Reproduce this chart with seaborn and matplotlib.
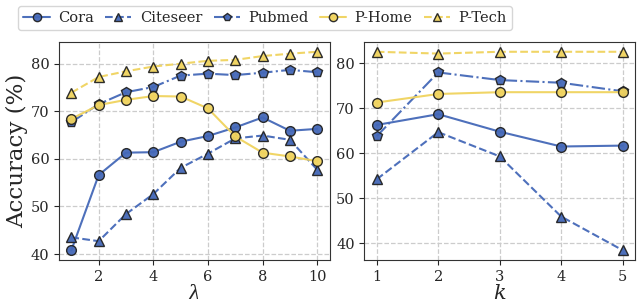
import numpy as np
import pandas as pd
import matplotlib
matplotlib.use("Agg")
import matplotlib.pyplot as plt
import seaborn as sns

# --- données ---
lam = [1, 2, 3, 4, 5, 6, 7, 8, 9, 10]
cora_lam = [40.8, 56.6, 61.3, 61.4, 63.6, 64.8, 66.6, 68.7, 65.9, 66.3]
citeseer_lam = [43.5, 42.7, 48.4, 52.6, 58.1, 61.1, 64.3, 64.9, 64.0, 57.7]
pubmed_lam = [67.7, 71.5, 74.0, 75.1, 77.5, 77.9, 77.6, 78.1, 78.7, 78.2]
phome_lam = [68.4, 71.3, 72.4, 73.2, 73.1, 70.6, 64.7, 61.3, 60.5, 59.5]
ptech_lam = [73.9, 77.2, 78.4, 79.4, 80.0, 80.6, 80.8, 81.6, 82.1, 82.5]

k = [1, 2, 3, 4, 5]
cora_k = [66.3, 68.7, 64.8, 61.5, 61.7]
citeseer_k = [54.2, 64.7, 59.3, 45.9, 38.4]
pubmed_k = [63.8, 78.0, 76.3, 75.7, 73.8]
phome_k = [71.3, 73.2, 73.6, 73.6, 73.6]
ptech_k = [82.6, 82.2, 82.6, 82.6, 82.6]

names = ["Cora", "Citeseer", "Pubmed", "P-Home", "P-Tech"]
blue = "#4468b8"
yellow = "#f0d35e"
styles = {
    "Cora": dict(color=blue, marker="o", ls="-"),
    "Citeseer": dict(color=blue, marker="^", ls="--"),
    "Pubmed": dict(color=blue, marker="p", ls="-."),
    "P-Home": dict(color=yellow, marker="o", ls="-"),
    "P-Tech": dict(color=yellow, marker="^", ls="--"),
}

sns.set_style("ticks")
plt.rcParams["font.family"] = ["DejaVu Serif"]
plt.rcParams["mathtext.fontset"] = "dejavuserif"

fig, axes = plt.subplots(1, 2, figsize=(6.42, 2.99), dpi=100)

panels = [
    (axes[0], lam, [cora_lam, citeseer_lam, pubmed_lam, phome_lam, ptech_lam], r"$\lambda$"),
    (axes[1], k, [cora_k, citeseer_k, pubmed_k, phome_k, ptech_k], r"$k$"),
]

for ax, x, series, xlabel in panels:
    for name, vals in zip(names, series):
        st = styles[name]
        df = pd.DataFrame({"x": x, "y": vals})
        sns.lineplot(data=df, x="x", y="y", ax=ax, color=st["color"], linestyle=st["ls"],
                     marker=st["marker"], markersize=7, markeredgecolor="#222222",
                     markeredgewidth=1.0, linewidth=1.5, alpha=0.95, label=name, legend=False)
    ax.grid(True, linestyle="--", color="#cccccc", linewidth=0.9)
    ax.set_xlabel(xlabel, fontsize=15, labelpad=0)
    ax.set_ylabel("")
    ax.tick_params(labelsize=10.5)
    for sp in ax.spines.values():
        sp.set_color("#333333")

axes[0].set_xticks([2, 4, 6, 8, 10])
axes[1].set_xticks(k)
axes[0].set_yticks([40, 50, 60, 70, 80])
axes[1].set_yticks([40, 50, 60, 70, 80])
axes[0].set_ylabel("Accuracy (%)", fontsize=16.5, labelpad=2)

handles, labels = axes[0].get_legend_handles_labels()
fig.legend(handles, labels, loc="upper center", ncol=5, fontsize=10.5, frameon=True,
           bbox_to_anchor=(0.413, 1.005), handlelength=1.8, columnspacing=0.75, handletextpad=0.6,
           borderpad=0.35, edgecolor="#cccccc", markerscale=0.85)

plt.subplots_adjust(left=0.092, right=0.989, top=0.86, bottom=0.13, wspace=0.129)
plt.savefig("out.png", dpi=100)
